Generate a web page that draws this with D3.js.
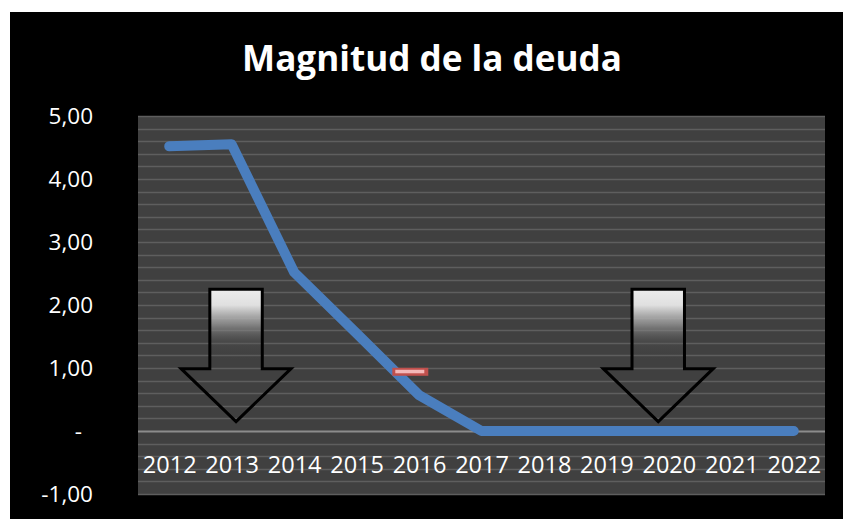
<!DOCTYPE html>
<html>
<head>
<meta charset="utf-8">
<script src="https://cdn.jsdelivr.net/npm/d3@7"></script>
<style>
  html, body { margin: 0; padding: 0; background: #fff; }
  svg { display: block; }
</style>
</head>
<body>
<script>
const years = ['2012', '2013', '2014', '2015', '2016', '2017', '2018', '2019', '2020', '2021', '2022'];
const deuda = [4.52, 4.55, 2.52, 1.55, 0.57, 0, 0, 0, 0, 0, 0];
const yTicks = [-1, 0, 1, 2, 3, 4, 5];
// decorative arrows, in data units (x = category index, y = value)
const arrows = [
  { cx: 1.07, top: 2.25, neck: 0.99, tip: 0.15 },
  { cx: 7.83, top: 2.25, neck: 0.99, tip: 0.15 }
];
const marker = { cx: 3.86, y: 0.94 };

const width = 843, height = 519;
const plot = { left: 138, right: 825, top: 116, bottom: 494 };

const svg = d3.select('body').append('svg')
  .attr('width', width)
  .attr('height', height);

svg.append('rect')
  .attr('x', 10).attr('y', 12)
  .attr('width', width - 10).attr('height', height - 12)
  .attr('fill', '#000');

const x = d3.scalePoint()
  .domain(years)
  .range([plot.left, plot.right])
  .padding(0.5);
const xi = d3.scaleLinear()
  .domain([0, years.length - 1])
  .range([x(years[0]), x(years[years.length - 1])]);
const y = d3.scaleLinear()
  .domain([-1, 5])
  .range([plot.bottom, plot.top]);

svg.append('rect')
  .attr('x', plot.left).attr('y', plot.top)
  .attr('width', plot.right - plot.left)
  .attr('height', plot.bottom - plot.top)
  .attr('fill', '#404040');

// minor gridlines every 0.2
const grid = d3.range(-5, 26).map(d => d / 5);
svg.append('g')
  .selectAll('line')
  .data(grid)
  .join('line')
    .attr('x1', plot.left).attr('x2', plot.right)
    .attr('y1', d => Math.round(y(d)) + 0.5)
    .attr('y2', d => Math.round(y(d)) + 0.5)
    .attr('stroke', d => d === 0 ? '#8c8c8c' : '#5e5e5e')
    .attr('stroke-width', d => d === 0 ? 2 : 1.5);

// y axis labels (Excel accounting style: zero shown as "-")
const fmt = d => d === 0 ? '-' : (d < 0 ? '-' : '') + d3.format('.2f')(Math.abs(d)).replace('.', ',');
const yAxis = svg.append('g')
  .attr('transform', `translate(${plot.left}, 0)`)
  .call(d3.axisLeft(y)
    .tickValues(yTicks)
    .tickSize(0)
    .tickPadding(45)
    .tickFormat(fmt));
yAxis.select('.domain').remove();
yAxis.selectAll('text')
  .attr('fill', '#fff')
  .attr('font-family', 'Open Sans')
  .attr('font-size', 22.5)
  .attr('dy', '0.34em')
  .filter(d => d === 0)
    .attr('dx', -11);

// x axis labels inside plot
const xAxis = svg.append('g')
  .attr('transform', `translate(0, ${y(0)})`)
  .call(d3.axisBottom(x).tickSize(0).tickPadding(25));
xAxis.select('.domain').remove();
xAxis.selectAll('text')
  .attr('fill', '#fff')
  .attr('font-family', 'Open Sans')
  .attr('font-size', 23.5);

// arrows
const defs = svg.append('defs');
const grad = defs.append('linearGradient')
  .attr('id', 'arrowFill')
  .attr('x1', 0).attr('y1', 0).attr('x2', 0).attr('y2', 1);
grad.append('stop').attr('offset', '0%').attr('stop-color', '#ececec').attr('stop-opacity', 1);
grad.append('stop').attr('offset', '12%').attr('stop-color', '#e0e0e0').attr('stop-opacity', 1);
grad.append('stop').attr('offset', '26%').attr('stop-color', '#9a9a9a').attr('stop-opacity', 0.8);
grad.append('stop').attr('offset', '40%').attr('stop-color', '#5a5a5a').attr('stop-opacity', 0.3);
grad.append('stop').attr('offset', '55%').attr('stop-color', '#404040').attr('stop-opacity', 0);

const shaftHalf = 0.42, headHalf = 0.88;
svg.append('g')
  .selectAll('path')
  .data(arrows)
  .join('path')
    .attr('d', a => {
      const p = [
        [xi(a.cx - shaftHalf), y(a.top)],
        [xi(a.cx + shaftHalf), y(a.top)],
        [xi(a.cx + shaftHalf), y(a.neck)],
        [xi(a.cx + headHalf), y(a.neck)],
        [xi(a.cx), y(a.tip)],
        [xi(a.cx - headHalf), y(a.neck)],
        [xi(a.cx - shaftHalf), y(a.neck)]
      ];
      return 'M' + p.join('L') + 'Z';
    })
    .attr('fill', 'url(#arrowFill)')
    .attr('stroke', '#000')
    .attr('stroke-width', 3)
    .attr('stroke-linejoin', 'miter');

// line
svg.append('path')
  .datum(deuda)
  .attr('fill', 'none')
  .attr('stroke', '#4a7ebe')
  .attr('stroke-width', 10)
  .attr('stroke-linecap', 'round')
  .attr('stroke-linejoin', 'round')
  .attr('d', d3.line()
    .x((d, i) => x(years[i]))
    .y(d => y(d)));

// small red minus shape
const mg = svg.append('g');
mg.append('rect')
  .attr('x', xi(marker.cx) - 18).attr('y', y(marker.y) - 4)
  .attr('width', 36).attr('height', 8)
  .attr('fill', '#c0504d');
mg.append('rect')
  .attr('x', xi(marker.cx) - 15).attr('y', y(marker.y) - 2)
  .attr('width', 29).attr('height', 3.5)
  .attr('fill', '#f4b8b8');

// title
const title = svg.append('text')
  .attr('x', 432)
  .attr('y', 71)
  .attr('text-anchor', 'middle')
  .attr('fill', '#fff')
  .attr('font-family', 'Open Sans')
  .attr('font-weight', 'bold')
  .attr('font-size', 33)
  .text('Magnitud de la deuda');
const tw = title.node().getComputedTextLength();
title.attr('font-size', 33 * 380 / tw);
</script>
</body>
</html>
